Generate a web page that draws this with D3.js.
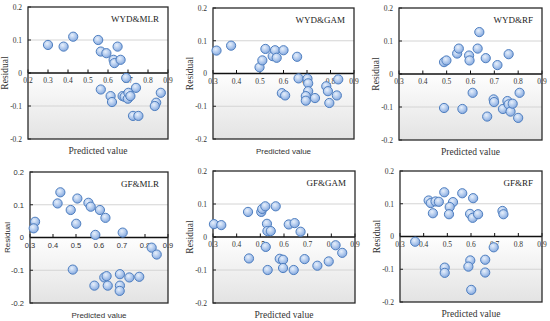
<!DOCTYPE html>
<html><head><meta charset="utf-8">
<script src="https://cdn.jsdelivr.net/npm/d3@7"></script>
<style>html,body{margin:0;padding:0;background:#fff}svg{display:block}</style>
</head><body>
<svg id="c" width="550" height="321"></svg>
<script>
// ---- data ----
const yTicks = [-0.2, -0.1, 0, 0.1, 0.2];
const xTicksA = [0.2, 0.3, 0.4, 0.5, 0.6, 0.7, 0.8, 0.9];
const xTicksB = [0.3, 0.4, 0.5, 0.6, 0.7, 0.8, 0.9];
const titles = ["WYD&MLR", "WYD&GAM", "WYD&RF", "GF&MLR", "GF&GAM", "GF&RF"];

const wydMlrX = [0.30,0.378,0.426,0.551,0.564,0.592,0.648,0.628,0.632,0.663,0.691,0.564,0.613,0.62,0.673,0.683,0.699,0.702,0.712,0.74,0.725,0.752,0.841,0.834,0.864];
const wydMlrY = [0.085,0.08,0.11,0.10,0.065,0.06,0.08,0.04,0.03,0.04,-0.015,-0.05,-0.07,-0.088,-0.07,-0.072,-0.078,-0.06,-0.07,-0.045,-0.13,-0.13,-0.09,-0.10,-0.06];

const wydGamX = [0.315,0.377,0.498,0.51,0.523,0.554,0.564,0.571,0.60,0.658,0.664,0.702,0.705,0.705,0.695,0.695,0.734,0.593,0.607,0.782,0.789,0.795,0.827,0.833];
const wydGamY = [0.07,0.085,0.019,0.04,0.075,0.053,0.071,0.048,0.071,0.051,-0.015,-0.016,-0.03,-0.054,-0.069,-0.083,-0.075,-0.06,-0.067,-0.039,-0.054,-0.09,-0.067,-0.018];

const wydRfX = [0.489,0.499,0.489,0.544,0.551,0.566,0.594,0.596,0.609,0.63,0.637,0.664,0.67,0.697,0.699,0.713,0.736,0.755,0.76,0.76,0.768,0.777,0.80,0.806];
const wydRfY = [0.036,0.041,-0.103,0.062,0.077,-0.106,0.056,0.041,-0.057,0.077,0.127,0.048,-0.129,-0.077,-0.085,0.027,-0.106,-0.082,0.06,-0.092,-0.114,-0.09,-0.133,-0.057];

const gfMlrX = [0.322,0.316,0.432,0.42,0.477,0.506,0.501,0.486,0.554,0.564,0.604,0.628,0.584,0.703,0.829,0.851,0.58,0.623,0.633,0.638,0.691,0.691,0.69,0.732,0.775];
const gfMlrY = [0.048,0.028,0.138,0.104,0.084,0.119,0.042,-0.098,0.106,0.094,0.084,0.06,0.008,0.015,-0.031,-0.052,-0.147,-0.122,-0.118,-0.147,-0.112,-0.147,-0.163,-0.122,-0.12];

const gfGamX = [0.304,0.335,0.448,0.504,0.508,0.521,0.565,0.528,0.53,0.544,0.62,0.645,0.67,0.523,0.452,0.531,0.582,0.596,0.596,0.641,0.687,0.741,0.789,0.818,0.846];
const gfGamY = [0.039,0.036,0.076,0.076,0.085,0.093,0.093,0.04,0.018,0.018,0.038,0.042,0.016,-0.03,-0.065,-0.10,-0.066,-0.069,-0.094,-0.10,-0.067,-0.087,-0.074,-0.025,-0.048];

const gfRfX = [0.364,0.421,0.43,0.45,0.464,0.439,0.487,0.524,0.51,0.507,0.563,0.609,0.596,0.607,0.63,0.733,0.737,0.696,0.489,0.489,0.597,0.589,0.66,0.66,0.601];
const gfRfY = [-0.016,0.11,0.102,0.107,0.106,0.071,0.135,0.105,0.09,0.068,0.132,0.117,0.069,0.057,0.068,0.078,0.068,-0.033,-0.095,-0.111,-0.073,-0.092,-0.071,-0.11,-0.163];

// ---- layout ----
const serif = "'Liberation Serif','Times New Roman',serif";
const sans = "'Liberation Sans',Arial,sans-serif";
const panels = [
  {t:titles[0], xs:wydMlrX, ys:wydMlrY, xt:xTicksA, l:28, r:168, top:7, b:139, tickF:serif, axF:serif, xlabF:serif},
  {t:titles[1], xs:wydGamX, ys:wydGamY, xt:xTicksB, l:213, r:354, top:8, b:139, tickF:serif, axF:serif, xlabF:sans},
  {t:titles[2], xs:wydRfX, ys:wydRfY, xt:xTicksB, l:399, r:542, top:8, b:140, tickF:serif, axF:serif, xlabF:serif},
  {t:titles[3], xs:gfMlrX, ys:gfMlrY, xt:xTicksB, l:30, r:168, top:172, b:303, tickF:sans, axF:sans, xlabF:sans},
  {t:titles[4], xs:gfGamX, ys:gfGamY, xt:xTicksB, l:213, r:355, top:171, b:303, tickF:serif, axF:serif, xlabF:serif},
  {t:titles[5], xs:gfRfX, ys:gfRfY, xt:xTicksB, l:400, r:542, top:171, b:302, tickF:serif, axF:serif, xlabF:serif}
];

const svg = d3.select("#c");
const defs = svg.append("defs");
const bg = defs.append("linearGradient").attr("id","bg").attr("x1",0).attr("y1",0).attr("x2",0).attr("y2",1);
bg.append("stop").attr("offset","0%").attr("stop-color","#ffffff");
bg.append("stop").attr("offset","48%").attr("stop-color","#ffffff");
bg.append("stop").attr("offset","100%").attr("stop-color","#e3e3e3");
const mk = defs.append("radialGradient").attr("id","mk").attr("cx","40%").attr("cy","35%").attr("r","65%");
mk.append("stop").attr("offset","0%").attr("stop-color","#e8f0fb");
mk.append("stop").attr("offset","55%").attr("stop-color","#b3cbee");
mk.append("stop").attr("offset","100%").attr("stop-color","#86a9de");

const fmt = v => v === 0 ? "0" : v.toFixed(1);

panels.forEach(p => {
  const x = d3.scaleLinear().domain([p.xt[0], p.xt[p.xt.length-1]]).range([p.l, p.r]);
  const y = d3.scaleLinear().domain([-0.2, 0.2]).range([p.b, p.top]);
  const g = svg.append("g");
  g.append("rect").attr("x",p.l).attr("y",p.top).attr("width",p.r-p.l).attr("height",p.b-p.top).attr("fill","url(#bg)");
  g.selectAll(".grid").data([-0.1, 0.1]).join("line")
    .attr("x1",p.l).attr("x2",p.r).attr("y1",d=>y(d)).attr("y2",d=>y(d))
    .attr("stroke","#d4d4d4").attr("stroke-width",1);
  g.selectAll(".yl").data(yTicks).join("text")
    .attr("x",p.l-6).attr("y",d=>y(d)+2.8).attr("text-anchor","end")
    .attr("font-family",p.tickF).attr("font-size",p.tickF===sans?7.5:7.5).attr("fill","#333")
    .text(fmt);
  g.selectAll(".yt").data(yTicks).join("line")
    .attr("x1",p.l).attr("x2",p.l+3).attr("y1",d=>y(d)).attr("y2",d=>y(d))
    .attr("stroke","#222").attr("stroke-width",1);
  g.selectAll(".xl").data(p.xt).join("text")
    .attr("x",d=>x(d)).attr("y",y(0)+10).attr("text-anchor","middle")
    .attr("font-family",p.tickF).attr("font-size",7.5).attr("fill","#333")
    .text(fmt);
  g.append("line").attr("x1",p.l).attr("x2",p.r).attr("y1",y(0)).attr("y2",y(0))
    .attr("stroke","#111").attr("stroke-width",1.5);
  g.selectAll(".xt").data(p.xt).join("line")
    .attr("x1",d=>x(d)).attr("x2",d=>x(d)).attr("y1",y(0)).attr("y2",y(0)-3.5)
    .attr("stroke","#111").attr("stroke-width",1);
  g.append("rect").attr("x",p.l).attr("y",p.top).attr("width",p.r-p.l).attr("height",p.b-p.top)
    .attr("fill","none").attr("stroke","#2a2a2a").attr("stroke-width",1.3);
  g.selectAll(".pt").data(p.xs.map((v,i)=>[v,p.ys[i]])).join("circle")
    .attr("cx",d=>x(d[0])).attr("cy",d=>y(d[1])).attr("r",4.6)
    .attr("fill","url(#mk)").attr("stroke","#4f7fc0").attr("stroke-width",1);
  g.append("text").attr("x",p.r-9).attr("y",p.top+15).attr("text-anchor","end")
    .attr("font-family",serif).attr("font-size",9).attr("fill","#222").text(p.t);
  g.append("text").attr("x",(p.l+p.r)/2).attr("y",p.b+15).attr("text-anchor","middle")
    .attr("font-family",p.xlabF).attr("font-size",p.xlabF===sans?8:9.5).attr("fill","#333").text("Predicted value");
  const cy = (p.top+p.b)/2;
  g.append("text").attr("transform",`translate(${p.l-20},${cy}) rotate(-90)`).attr("text-anchor","middle")
    .attr("font-family",p.axF).attr("font-size",p.axF===sans?8:9.5).attr("fill","#333").text("Residual");
});
</script>
</body></html>
